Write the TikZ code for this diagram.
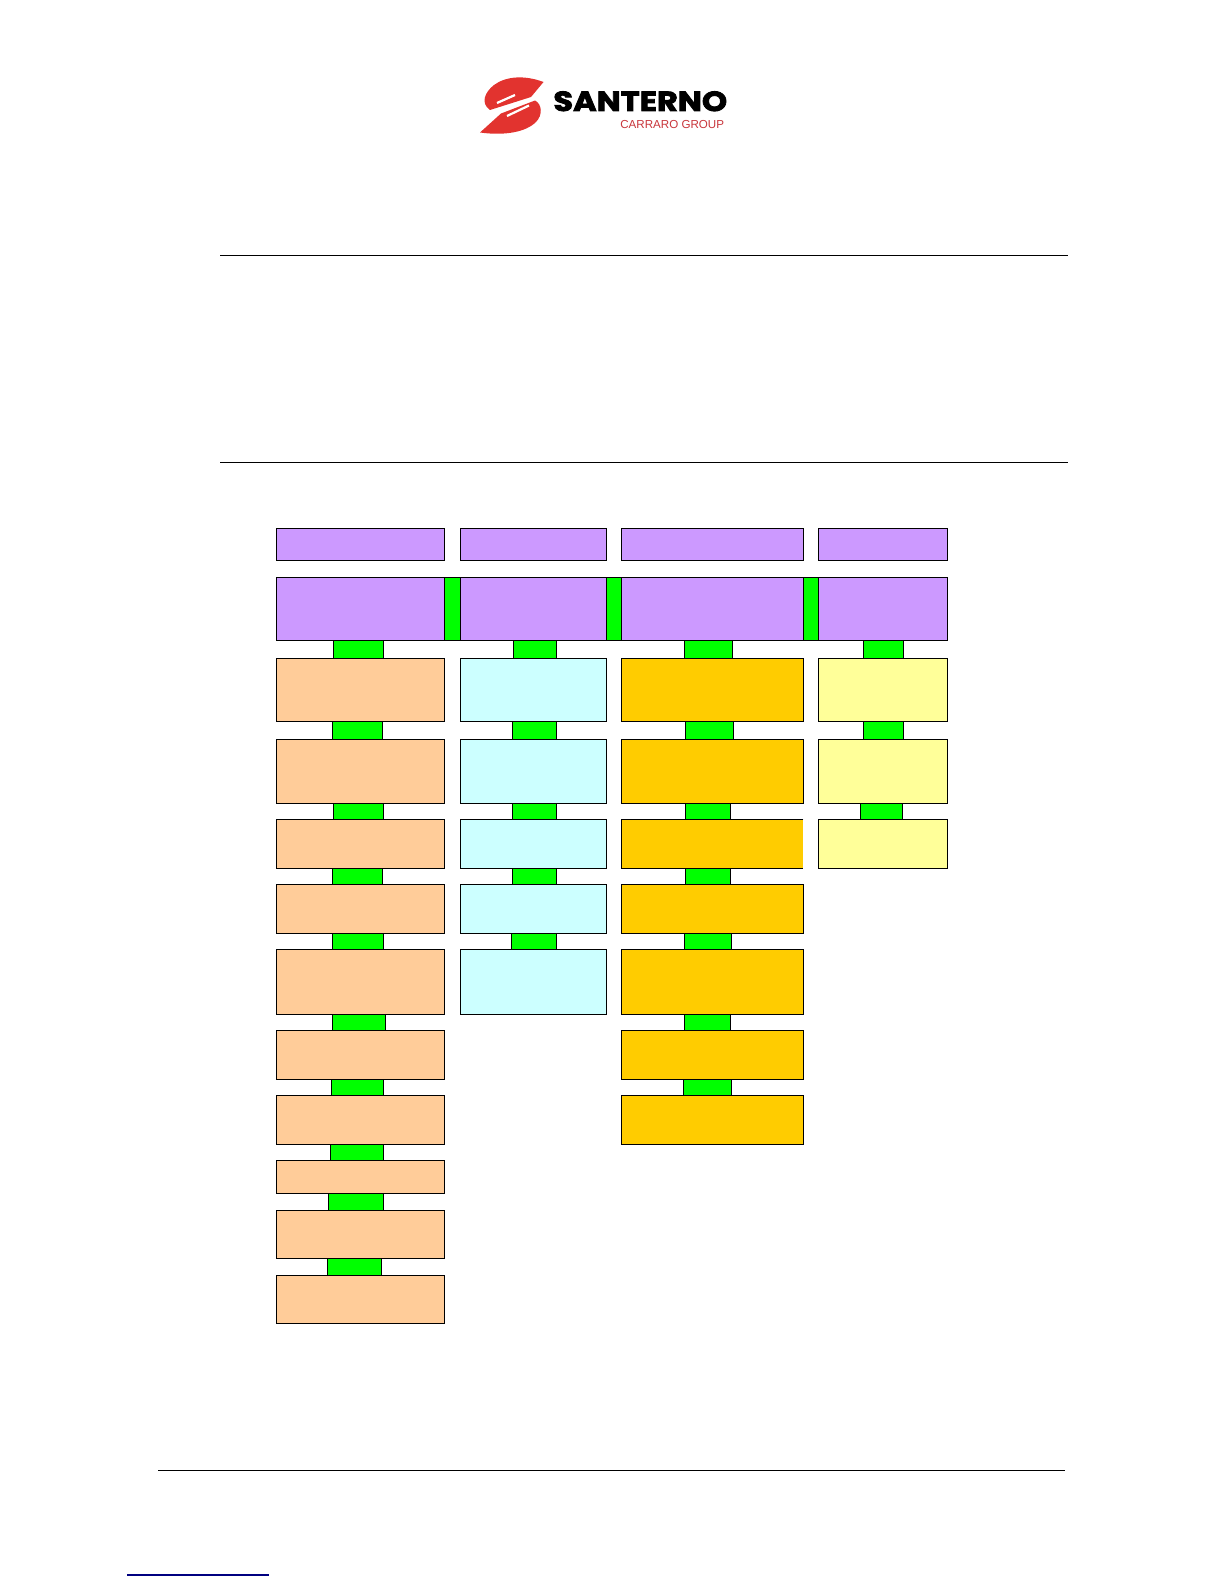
\documentclass[tikz,border=0pt]{standalone}
\usepackage{xcolor}
\usepackage{fontspec}
\setmainfont{Liberation Sans}
\newfontfamily\logofont[FakeStretch=1.16,BoldFeatures={FakeBold=3}]{Poppins}
\definecolor{bandPurple}{HTML}{CC99FF}
\definecolor{lightPeach}{HTML}{FFCC99}
\definecolor{lightCyan}{HTML}{CCFFFF}
\definecolor{deepGold}{HTML}{FFCC00}
\definecolor{paleYellow}{HTML}{FFFF99}
\definecolor{linkGreen}{HTML}{00FF00}
\definecolor{logoRed}{HTML}{E2332F}
\definecolor{groupRed}{HTML}{C8353B}
\definecolor{webBlue}{HTML}{000080}

\begin{document}
\begin{tikzpicture}[
    x=0.5pt, y=-0.5pt,
    edge/.style={line width=0.55pt, black},
    cell/.style={draw=black, line width=0.55pt, inner sep=0pt, outer sep=0pt},
    colA/.style={cell, minimum width=84pt},
    colB/.style={cell, minimum width=73pt},
    colC/.style={cell, minimum width=91pt},
    colD/.style={cell, minimum width=64.5pt},
    link/.style={draw=black, line width=0.55pt, fill=linkGreen},
    rulefull/.style={line width=0.55pt, black}
]
\useasboundingbox (0,0) rectangle (1224,1584);

% Logo.
\fill[logoRed] (543.5,82) .. controls (525,75) and (506,76) .. (494,85) .. controls (485,92) and (480,103) .. (490,110)
    -- (531,97) -- cycle;
\fill[logoRed] (480,132.5) -- (501,113.5) -- (535,100.5) .. controls (542,104) and (543,115) .. (536,122)
    .. controls (526,132) and (505,136) .. (480,132.5) -- cycle;
\draw[white, line width=1.1pt] (497,103) -- (515,95);
\draw[white, line width=1.1pt] (507,116) -- (529,105.5);
\node[inner sep=0pt, anchor=base west, font=\logofont\bfseries\fontsize{13.8}{14}\selectfont] (brand) at (553,111) {SANTERNO};
\node[inner sep=0pt, anchor=base east, text=groupRed, font=\fontsize{5.8}{6}\selectfont] (group) at (724.5,128.7) {CARRARO GROUP};

% Page rules.
\draw[rulefull] (220,255.3) -- (1068,255.3);
\draw[rulefull] (220,462.3) -- (1068,462.3);
\draw[rulefull] (158,1470.4) -- (1065,1470.4);
\draw[line width=0.6pt, webBlue] (127,1575) -- (269,1575);

% Purple top rows.
\foreach \n/\x/\st in {1/360.3/colA,2/533.3/colB,3/712.3/colC,4/882.8/colD}{
    \node[\st, fill=bandPurple, minimum height=16pt] (h\n) at (\x,544.3) {};
    \node[\st, fill=bandPurple, minimum height=31.65pt] (t\n) at (\x,608.95) {};
}

% Four columns of boxes.
\foreach \n/\y/\h in {1/689.95/31.65,2/771.3/32,3/843.8/24.5,4/908.8/24.5,5/981.8/32.5,6/1054.8/24.5,7/1119.8/24.5,8/1176.8/16.5,9/1234.3/24,10/1299.3/24}{
    \node[colA, fill=lightPeach, minimum height=\h pt] (a\n) at (360.3,\y) {};
}
\foreach \n/\y/\h in {1/689.95/31.65,2/771.3/32,3/843.8/24.5,4/908.8/24.5,5/981.8/32.5}{
    \node[colB, fill=lightCyan, minimum height=\h pt] (b\n) at (533.3,\y) {};
}
\foreach \n/\y/\h in {1/689.95/31.65,2/771.3/32,4/908.8/24.5,5/981.8/32.5,6/1054.8/24.5,7/1119.8/24.5}{
    \node[colC, fill=deepGold, minimum height=\h pt] (c\n) at (712.3,\y) {};
}
% This one has no right side.
\node[colC, draw=none, fill=deepGold, minimum height=24.5pt] (c3) at (712.3,843.8) {};
\draw[edge] (c3.north east) -- (c3.north west) -- (c3.south west) -- (c3.south east);
\foreach \n/\y/\h in {1/689.95/31.65,2/771.3/32,3/843.8/24.5}{
    \node[colD, fill=paleYellow, minimum height=\h pt] (d\n) at (882.8,\y) {};
}

% Green links across the band.
\draw[link] (t1.north east) rectangle (t2.south west);
\draw[link] (t2.north east) rectangle (t3.south west);
\draw[link] (t3.north east) rectangle (t4.south west);

% Green links down the columns.
\foreach \upper/\lower/\xa/\xb in {
    t1/a1/333.3/383.3, a1/a2/332.3/382.3, a2/a3/333.3/383.3, a3/a4/332.3/382.3, a4/a5/332.3/383.3,
    a5/a6/332.3/385.7, a6/a7/331.3/383.3, a7/a8/330.3/383.3, a8/a9/328.3/383.3, a9/a10/327.3/381.7,
    t2/b1/513.3/556.3, b1/b2/512.3/556.3, b2/b3/512.3/556.3, b3/b4/512.3/556.3, b4/b5/511.3/556.3,
    t3/c1/684.3/732.3, c1/c2/685.3/733.3, c2/c3/685.3/730.3, c3/c4/685.3/730.3, c4/c5/684.3/731.3,
    c5/c6/684.3/730.3, c6/c7/683.3/731.3,
    t4/d1/863.3/903.3, d1/d2/863.3/903.3, d2/d3/860.3/902.3}{
    \draw[link] (\xa,0 |- \upper.south) rectangle (\xb,0 |- \lower.north);
}
\end{tikzpicture}
\end{document}
